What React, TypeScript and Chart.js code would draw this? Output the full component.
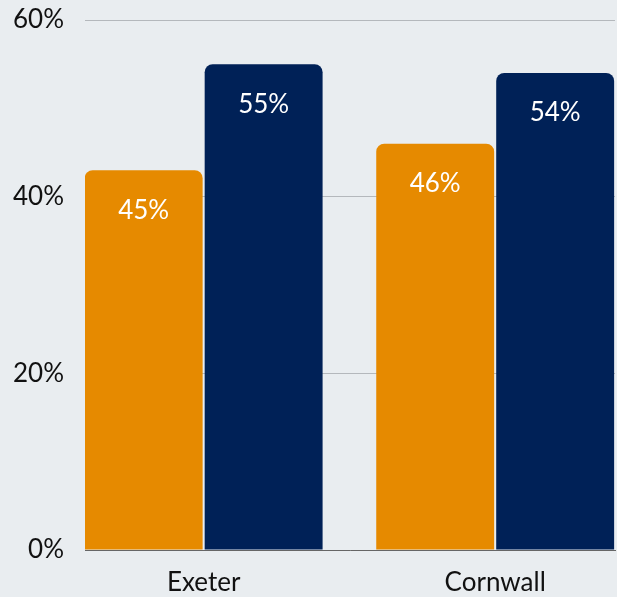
import React, { useEffect, useRef } from "react";
import { Chart, registerables } from "chart.js";

Chart.register(...registerables);

const categories = ["Exeter", "Cornwall"];
const orangeValues = [43, 46];
const navyValues = [55, 54];
const orangeLabels = ["45%", "46%"];
const navyLabels = ["55%", "54%"];
const yTicks = [0, 20, 40, 60];

const FONT = "Lato";
const FONT_SIZE = 26;
const ORANGE = "#e68a00";
const NAVY = "#002157";
const BG = "#e9edf0";

const valueLabelSets = [orangeLabels, navyLabels];

const labelPlugin = {
  id: "barValueLabels",
  afterDatasetsDraw(chart: any) {
    const ctx = chart.ctx;
    ctx.save();
    ctx.font = `${FONT_SIZE}px ${FONT}`;
    ctx.fillStyle = "#ffffff";
    ctx.textAlign = "center";
    ctx.textBaseline = "middle";
    chart.data.datasets.forEach((_ds: any, di: number) => {
      const meta = chart.getDatasetMeta(di);
      meta.data.forEach((el: any, i: number) => {
        ctx.fillText(valueLabelSets[di][i], el.x, el.y + 40);
      });
    });
    ctx.restore();
  },
};

export default function App() {
  const ref = useRef<HTMLCanvasElement | null>(null);

  useEffect(() => {
    if (!ref.current) return;
    const chart = new Chart(ref.current, {
      type: "bar",
      data: {
        datasets: [
          {
            label: "A",
            data: categories.map((_, i) => ({ x: i, y: orangeValues[i] })),
            backgroundColor: ORANGE,
            borderRadius: 8,
            borderSkipped: "bottom",
          },
          {
            label: "B",
            data: categories.map((_, i) => ({ x: i, y: navyValues[i] })),
            backgroundColor: NAVY,
            borderRadius: 8,
            borderSkipped: "bottom",
          },
        ],
      },
      options: {
        animation: false,
        responsive: false,
        categoryPercentage: 0.823,
        barPercentage: 0.983,
        layout: { padding: { top: 20, right: 2, bottom: 0, left: 0 } },
        plugins: {
          legend: { display: false },
          tooltip: { enabled: false },
        },
        scales: {
          x: {
            type: "linear",
            min: -0.407,
            max: 1.411,
            offset: false,
            afterBuildTicks: (scale: any) => {
              scale.ticks = categories.map((_, i) => ({ value: i }));
            },
            afterFit: (scale: any) => {
              scale.height = 47;
              scale.paddingLeft = 0;
              scale.paddingRight = 0;
            },
            ticks: {
              callback: (v: any) => categories[v] ?? "",
              font: { family: FONT, size: FONT_SIZE },
              color: "#111111",
              padding: 17,
              maxRotation: 0,
              autoSkip: false,
            },
            grid: { display: false, drawTicks: false },
            border: { display: true, color: "#666666", width: 1 },
          },
          y: {
            min: 0,
            max: 60,
            afterBuildTicks: (scale: any) => {
              scale.ticks = yTicks.map((v) => ({ value: v }));
            },
            afterFit: (scale: any) => {
              scale.width = 85;
              scale.paddingTop = 0;
              scale.paddingBottom = 0;
            },
            ticks: {
              callback: (v: any) => `${v}%`,
              font: { family: FONT, size: FONT_SIZE },
              color: "#111111",
              padding: 21,
            },
            grid: { color: "#b4b8bc", lineWidth: 1, drawTicks: false },
            border: { display: false },
          },
        },
      },
      plugins: [labelPlugin],
    });
    return () => chart.destroy();
  }, []);

  return (
    <div
      style={{
        position: "absolute",
        left: 0,
        top: 0,
        width: 617,
        height: 597,
        background: BG,
      }}
    >
      <canvas ref={ref} width={617} height={597} style={{ display: "block" }} />
    </div>
  );
}
